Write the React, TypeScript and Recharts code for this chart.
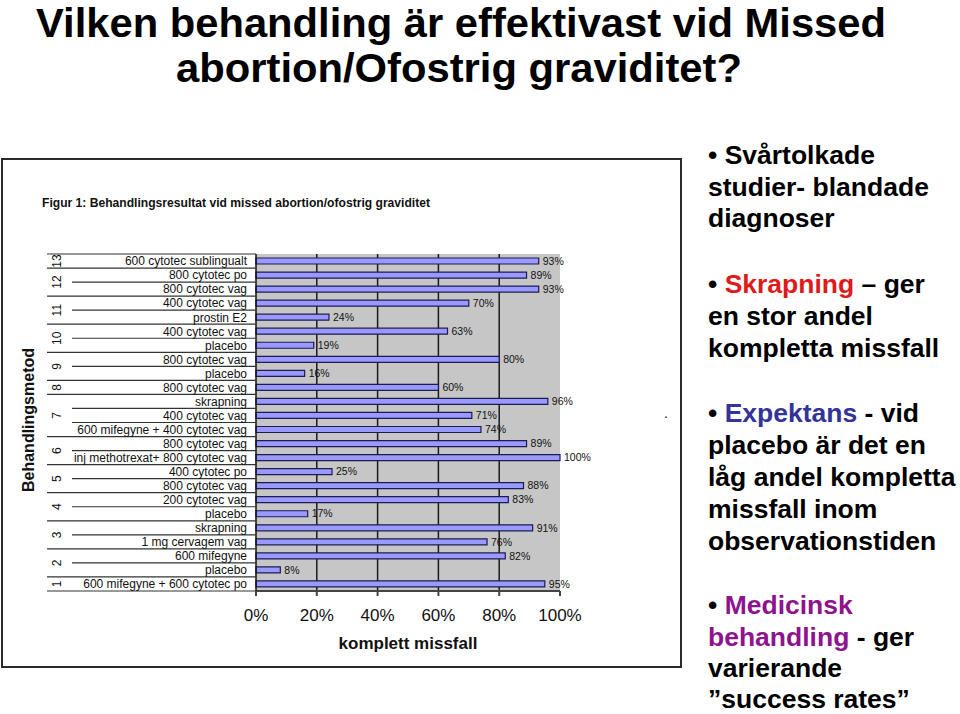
import React from 'react';
import { BarChart, Bar, XAxis, YAxis, CartesianGrid, LabelList } from 'recharts';

// one entry per row, top to bottom as in the figure
const treatments = [
  '600 cytotec sublingualt',
  '800 cytotec po',
  '800 cytotec vag',
  '400 cytotec vag',
  'prostin E2',
  '400 cytotec vag',
  'placebo',
  '800 cytotec vag',
  'placebo',
  '800 cytotec vag',
  'skrapning',
  '400 cytotec vag',
  '600 mifegyne + 400 cytotec vag',
  '800 cytotec vag',
  'inj methotrexat+ 800 cytotec vag',
  '400 cytotec po',
  '800 cytotec vag',
  '200 cytotec vag',
  'placebo',
  'skrapning',
  '1 mg cervagem vag',
  '600 mifegyne ',
  'placebo',
  '600 mifegyne + 600 cytotec po',
];

// komplett missfall, %
const completeRate = [93, 89, 93, 70, 24, 63, 19, 80, 16, 60, 96, 71, 74, 89, 100, 25, 88, 83, 17, 91, 76, 82, 8, 95];

// study number (Behandlingsmetod) for each row
const studyGroup = [13, 12, 12, 11, 11, 10, 10, 9, 9, 8, 7, 7, 7, 6, 6, 5, 5, 4, 4, 3, 3, 2, 2, 1];

const xTicks = [0, 20, 40, 60, 80, 100];

const rows = treatments.map((name, i) => ({
  key: `row-${i}`,
  name,
  value: completeRate[i],
  group: studyGroup[i],
}));

const PLOT_H = 337;
const BAND = PLOT_H / rows.length;

function TreatmentTick(props: any) {
  const { x, y, payload } = props;
  const i = rows.findIndex((r) => r.key === payload.value);
  if (i < 0) return null;
  const row = rows[i];
  const axisX = x + 9;
  const first = i === 0 || studyGroup[i - 1] !== row.group;
  const last = i === rows.length - 1 || studyGroup[i + 1] !== row.group;
  const size = studyGroup.filter((g) => g === row.group).length;
  return (
    <g>
      {i === 0 && (
        <line x1={47} x2={axisX} y1={y - BAND / 2} y2={y - BAND / 2} stroke="#333" strokeWidth={1.2} />
      )}
      <line x1={last ? 47 : 72} x2={axisX} y1={y + BAND / 2} y2={y + BAND / 2} stroke="#333" strokeWidth={1.2} />
      {first && (
        <text
          transform={`translate(57, ${y + ((size - 1) * BAND) / 2}) rotate(-90)`}
          textAnchor="middle"
          dy="0.35em"
          fontSize={12}
          fill="#111"
        >
          {row.group}
        </text>
      )}
      <text x={x} y={y} dy="0.36em" textAnchor="end" fontSize={12} fill="#111">
        {row.name}
      </text>
    </g>
  );
}

const bullet = { fontSize: 26.5, fontWeight: 700, fill: '#000' } as const;

export default function App() {
  return (
    <div
      style={{
        position: 'absolute',
        left: 0,
        top: 0,
        width: 960,
        height: 714,
        background: '#fff',
        fontFamily: "Arial, 'Liberation Sans', sans-serif",
        overflow: 'hidden',
      }}
    >
      {/* chart frame */}
      <div
        style={{
          position: 'absolute',
          left: 1,
          top: 158,
          width: 681,
          height: 510,
          border: '2px solid #2a2a2a',
          boxSizing: 'border-box',
        }}
      />

      <svg width={960} height={714} style={{ position: 'absolute', left: 0, top: 0 }}>
        <g fontFamily="'Liberation Sans Narrow', 'Arial Narrow', 'Liberation Sans', Arial, sans-serif" fontWeight={700} fontSize={40} fill="#000">
          <text x={36} y={37} textLength={850} lengthAdjust="spacingAndGlyphs">
            Vilken behandling är effektivast vid Missed
          </text>
          <text x={176} y={82} textLength={566} lengthAdjust="spacingAndGlyphs">
            abortion/Ofostrig graviditet?
          </text>
        </g>

        <text x={42} y={207} fontSize={13} fontWeight={700} fill="#111" textLength={388} lengthAdjust="spacingAndGlyphs">
          Figur 1: Behandlingsresultat vid missed abortion/ofostrig graviditet
        </text>

        <text transform="translate(28, 420) rotate(-90)" textAnchor="middle" dy="0.35em" fontSize={16} fontWeight={700} fill="#111">
          Behandlingsmetod
        </text>

        <text x={664} y={418} fontSize={14} fill="#111">.</text>

        <g {...bullet}>
          <text x={708} y={164}>• Svårtolkade</text>
          <text x={708} y={196}>studier- blandade</text>
          <text x={708} y={227}>diagnoser</text>

          <text x={708} y={293}>
            • <tspan fill="#e01a1a">Skrapning</tspan> – ger
          </text>
          <text x={708} y={325}>en stor andel</text>
          <text x={708} y={357}>kompletta missfall</text>

          <text x={708} y={422}>
            • <tspan fill="#333399">Expektans</tspan> - vid
          </text>
          <text x={708} y={454}>placebo är det en</text>
          <text x={708} y={486}>låg andel kompletta</text>
          <text x={708} y={518}>missfall inom</text>
          <text x={708} y={550}>observationstiden</text>

          <text x={708} y={614}>
            • <tspan fill="#8e148e">Medicinsk</tspan>
          </text>
          <text x={708} y={646}>
            <tspan fill="#8e148e">behandling</tspan> - ger
          </text>
          <text x={708} y={677}>varierande</text>
          <text x={708} y={708}>”success rates”</text>
        </g>
      </svg>

      <div style={{ position: 'absolute', left: 0, top: 150 }}>
        <BarChart
          width={680}
          height={520}
          layout="vertical"
          data={rows}
          margin={{ top: 104, right: 120, bottom: 19, left: 0 }}
        >
          <CartesianGrid
            horizontal={false}
            fill="#c6c6c6"
            stroke="#1a1a1a"
            strokeWidth={1.5}
            verticalValues={[20, 40, 60, 80]}
          />
          <XAxis
            type="number"
            domain={[0, 100]}
            ticks={xTicks}
            tickFormatter={(v: number) => `${v}%`}
            height={60}
            tickSize={5}
            tickMargin={13}
            axisLine={{ stroke: '#444', strokeWidth: 2 }}
            tickLine={{ stroke: '#444', strokeWidth: 2 }}
            tick={{ fontSize: 17, fill: '#111' }}
            label={{
              value: 'komplett missfall',
              position: 'insideBottom',
              offset: 2,
              style: { fontSize: 17, fontWeight: 700, fill: '#111' },
            }}
          />
          <YAxis
            type="category"
            dataKey="key"
            width={256}
            interval={0}
            tickSize={0}
            tickMargin={9}
            tickLine={false}
            axisLine={{ stroke: '#111', strokeWidth: 1.5 }}
            tick={<TreatmentTick />}
          />
          <Bar dataKey="value" fill="#9999ff" stroke="#1c1c50" strokeWidth={1.2} barSize={6} isAnimationActive={false}>
            <LabelList
              dataKey="value"
              position="right"
              offset={4}
              formatter={(v: any) => `${v}%`}
              style={{ fontSize: 10.5, fill: '#111' }}
            />
          </Bar>
        </BarChart>
      </div>
    </div>
  );
}
